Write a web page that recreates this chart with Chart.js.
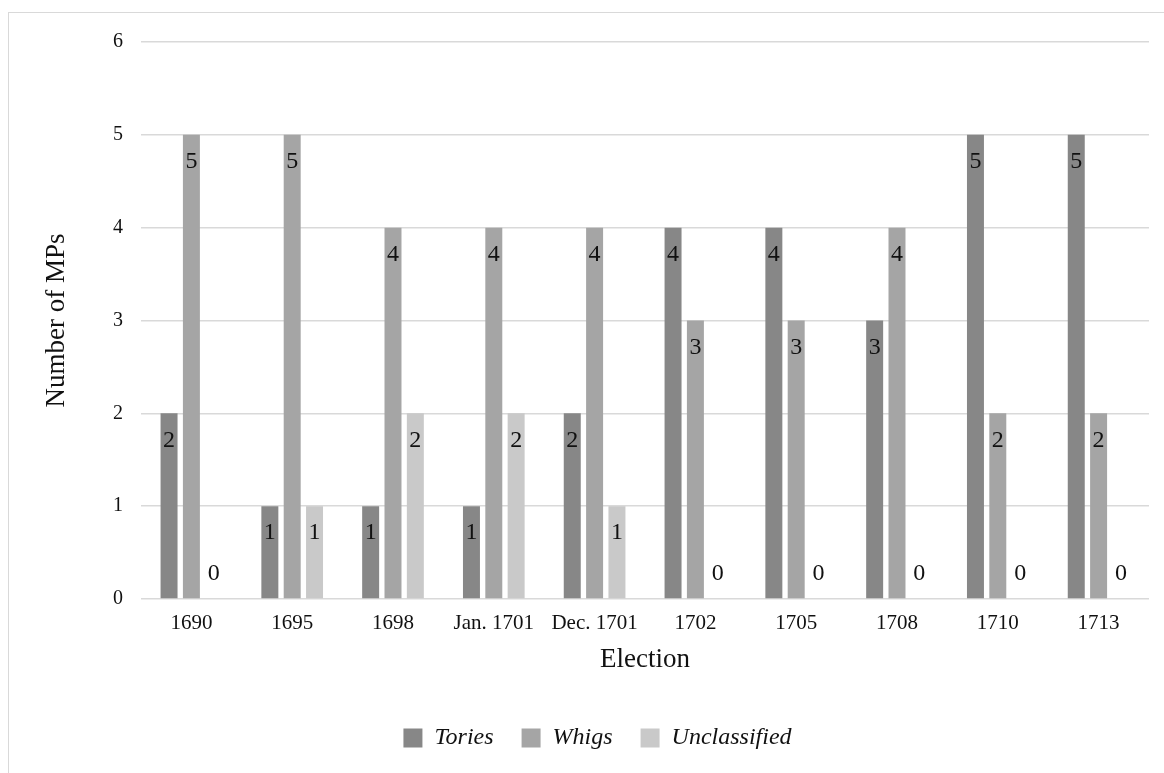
<!DOCTYPE html>
<html>
<head>
<meta charset="utf-8">
<title>MPs by election</title>
<script src="https://cdn.jsdelivr.net/npm/chart.js@4"></script>
<style>
  html, body { margin: 0; padding: 0; background: #fff; }
  #wrap { position: relative; width: 1164px; height: 773px; overflow: hidden; }
  #frame { position: absolute; left: 8px; top: 12px; width: 1300px; height: 900px;
           border: 1px solid #d9d9d9; box-sizing: border-box; }
  #chart { position: absolute; left: 0; top: 0; }
</style>
</head>
<body>
<div id="wrap">
  <div id="frame"></div>
  <canvas id="chart" width="1164" height="773"></canvas>
</div>
<script>
const elections = ['1690', '1695', '1698', 'Jan. 1701', 'Dec. 1701', '1702', '1705', '1708', '1710', '1713'];
const tories = [2, 1, 1, 1, 2, 4, 4, 3, 5, 5];
const whigs = [5, 5, 4, 4, 4, 3, 3, 4, 2, 2];
const unclassified = [0, 1, 2, 2, 1, 0, 0, 0, 0, 0];
const yTicks = [0, 1, 2, 3, 4, 5, 6];

const SERIF = '"Liberation Serif", "Times New Roman", serif';

// Value labels: inside the top of each bar, or just above the axis for zeros
const valueLabels = {
  id: 'valueLabels',
  afterDatasetsDraw(chart) {
    const ctx = chart.ctx;
    ctx.save();
    ctx.font = '24px ' + SERIF;
    ctx.fillStyle = '#111';
    ctx.textAlign = 'center';
    ctx.textBaseline = 'middle';
    chart.data.datasets.forEach((ds, i) => {
      const meta = chart.getDatasetMeta(i);
      meta.data.forEach((bar, j) => {
        const v = ds.data[j];
        const y = v === 0 ? bar.base - 25 : bar.y + 27;
        ctx.fillText(String(v), bar.x, y);
      });
    });
    ctx.restore();
  }
};

// Nudge the legend row slightly right of the canvas centre
const legendShift = {
  id: 'legendShift',
  afterLayout(chart) {
    if (chart.legend) {
      chart.legend.left += 23;
      chart.legend.right += 23;
    }
  }
};

new Chart(document.getElementById('chart'), {
  type: 'bar',
  data: {
    labels: elections,
    datasets: [
      { label: 'Tories', data: tories, backgroundColor: '#878787', borderWidth: 0 },
      { label: 'Whigs', data: whigs, backgroundColor: '#a5a5a5', borderWidth: 0 },
      { label: 'Unclassified', data: unclassified, backgroundColor: '#c9c9c9', borderWidth: 0 }
    ]
  },
  options: {
    responsive: false,
    animation: false,
    events: [],
    datasets: { bar: { categoryPercentage: 0.665, barPercentage: 0.76 } },
    layout: { padding: { left: 0, right: 15, top: 42, bottom: 13 } },
    plugins: {
      tooltip: { enabled: false },
      legend: {
        position: 'bottom',
        labels: {
          boxWidth: 19,
          boxHeight: 19,
          padding: 28,
          color: '#111',
          font: { family: SERIF, size: 24, style: 'italic' }
        }
      }
    },
    scales: {
      x: {
        grid: { display: false, drawTicks: false },
        border: { display: false },
        ticks: { color: '#111', padding: 12, maxRotation: 0, font: { family: SERIF, size: 21 } },
        title: {
          display: true, text: 'Election', color: '#111',
          font: { family: SERIF, size: 27 }, padding: { top: 0, bottom: 22 }
        },
        afterFit(scale) { scale.height = 99; }
      },
      y: {
        min: 0, max: 6,
        afterBuildTicks(scale) { scale.ticks = yTicks.map(v => ({ value: v })); },
        grid: { color: '#d9d9d9', lineWidth: 1.5, drawTicks: false },
        border: { display: false },
        ticks: { color: '#111', padding: 18, font: { family: SERIF, size: 20 } },
        title: {
          display: true, text: 'Number of MPs', color: '#111',
          font: { family: SERIF, size: 27 }, padding: { top: 41, bottom: 0 }
        },
        afterFit(scale) { scale.width = 141; }
      }
    }
  },
  plugins: [valueLabels, legendShift]
});
</script>
</body>
</html>
